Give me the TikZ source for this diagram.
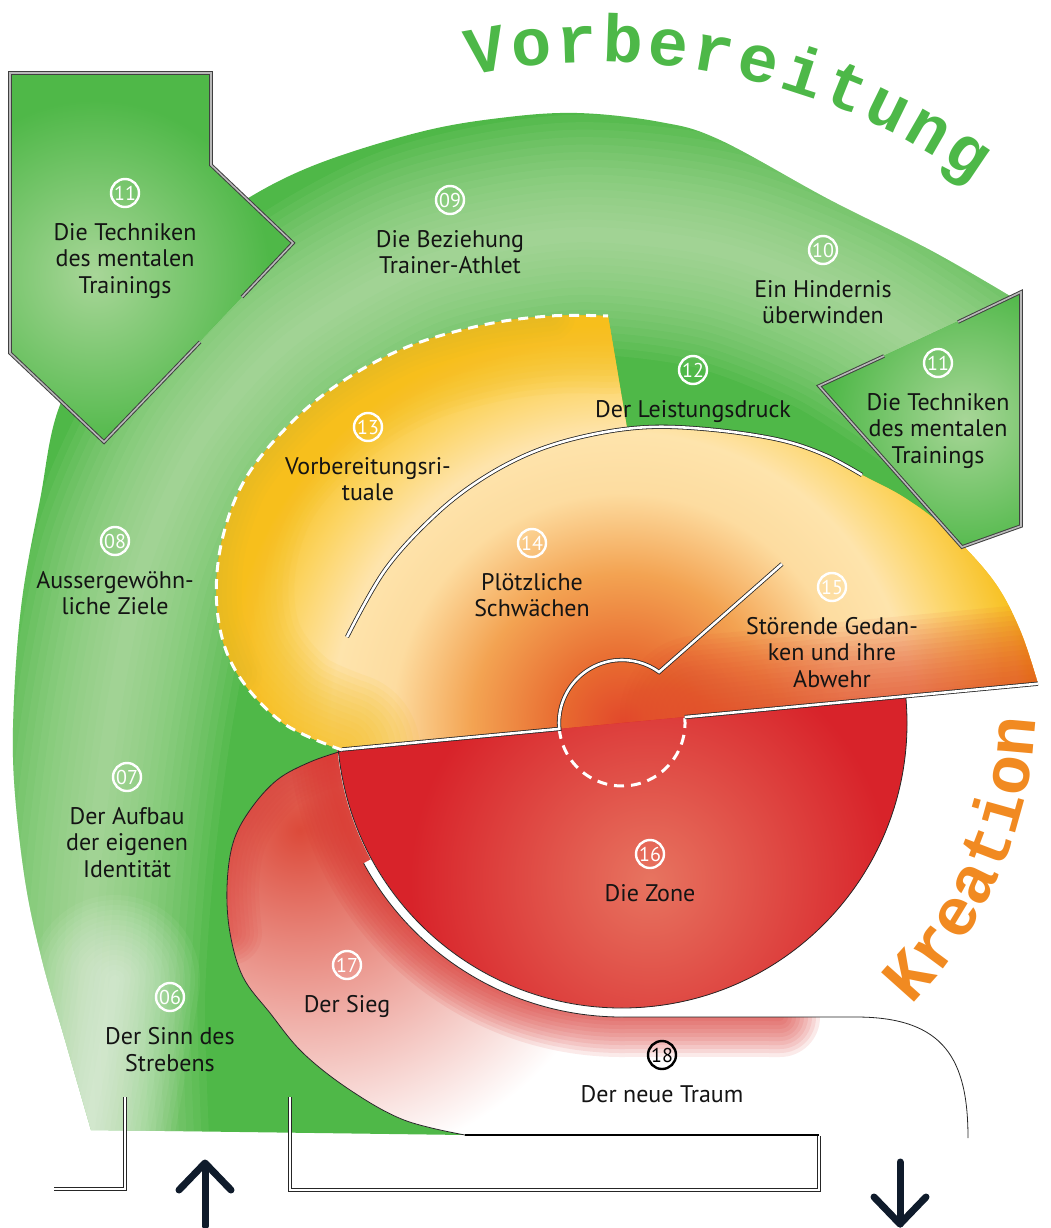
\documentclass[tikz,border=0pt]{standalone}
\usepackage{fontspec}
\setmainfont{PT Sans}
\newfontfamily\titlefont{Liberation Mono}
\usetikzlibrary{positioning,calc}

\definecolor{ringgreen}{HTML}{4FB848}
\definecolor{ringlight}{HTML}{C8E6BA}
\definecolor{boxlight}{HTML}{A8D698}
\definecolor{sunyellow}{HTML}{F7BF1C}
\definecolor{sunmid}{HTML}{FCD462}
\definecolor{suncream}{HTML}{FEE4AC}
\definecolor{sunpale}{HTML}{FDDCA0}
\definecolor{sunorange}{HTML}{F3A352}
\definecolor{sunflame}{HTML}{E86A30}
\definecolor{sunred}{HTML}{E2482B}
\definecolor{sunolive}{HTML}{C9B236}
\definecolor{zonered}{HTML}{D8232A}
\definecolor{zonelight}{HTML}{E77460}
\definecolor{siegred}{HTML}{DA3530}
\definecolor{siegmid}{HTML}{DC4A3A}
\definecolor{arrowink}{HTML}{0F1B2B}
\definecolor{titlegreen}{HTML}{4DB848}
\definecolor{titleorange}{HTML}{F18A21}
\definecolor{labelink}{HTML}{141414}

% 25bp of the shading is the radius of the shaded circle
\pgfdeclareradialshading{sunglow}{\pgfpoint{0bp}{0bp}}{%
  color(0bp)=(sunred); color(3.6bp)=(sunflame); color(8.9bp)=(sunorange);
  color(13.7bp)=(sunpale); color(17.3bp)=(suncream); color(20.8bp)=(sunmid);
  color(24.4bp)=(sunyellow); color(50bp)=(sunyellow)}

% region outlines (pixel units, y pointing down)
\def\ringpath{plot[smooth, tension=0.6] coordinates {(91,1130) (65,1040) (42,960) (25,880) (14,780) (14,700) (22,600) (40,500) (60,405) (110,320) (190,240) (250,197) (320,163) (420,132) (500,118) (577,113) (660,122) (720,140) (830,200) (930,250) (1010,296)} -- (1018,300) -- (1018,520) -- (965,540) -- (700,700) -- (342,752) .. controls (250,800) and (240,1050) .. (465,1135) -- cycle}
\def\sunpath{plot[smooth, tension=0.6] coordinates {(342,750) (283,723) (237,673) (218,617) (220,550) (243,483) (287,427) (340,383) (407,347) (483,325) (550,316) (608,316)} -- (627,428) -- plot[smooth, tension=0.6] coordinates {(627,428) (650,427) (715,430) (780,440) (825,455) (862,475) (905,498) (947,530) (993,580) (1020,630) (1038,684)} -- cycle}
\def\dashcurve{plot[smooth, tension=0.6] coordinates {(342,750) (283,723) (237,673) (218,617) (220,550) (243,483) (287,427) (340,383) (407,347) (483,325) (550,316) (608,316)}}
\def\zonepath{(622,723) ++(-5.4:285) arc[start angle=-5.4, end angle=174.6, radius=285] -- cycle}
\def\siegpath{plot[smooth, tension=0.6] coordinates {(342,751) (310,762) (277,780) (250,810) (233,843) (227,887) (230,933) (243,977) (270,1013) (303,1053) (350,1090) (404,1120) (465,1135)} -- (968,1138) .. controls (968,1060) and (945,1017) .. (856,1017) -- (622,1017) -- (622,1009) arc[start angle=90, end angle=174.6, radius=286] -- cycle}
\def\leftbox{(10,73) -- (211,73) -- (211,165) -- (293,243) -- (104,442) -- (10,353) -- cycle}
\def\rightbox{(819,386) -- (1021,292) -- (1021,526) -- (962,547) -- cycle}

\begin{document}
\begin{tikzpicture}[
    x=1pt, y=-1pt,
    rim line/.style={draw=black!75, line width=1pt, double=gray!55, double distance=1.6pt},
    cut line/.style={draw=black!85, line width=0.8pt, double=white, double distance=2.6pt},
    loop line/.style={draw=black!85, line width=0.7pt, double=white, double distance=2pt},
    edge line/.style={draw=black!85, line width=0.8pt},
    dash rim/.style={draw=white, line width=3pt, dash pattern=on 10pt off 7pt},
    glow/.style={line cap=round, line join=round, opacity=#1},
    num/.style={circle, draw=white, line width=2.4pt, text=white, minimum size=28pt, inner sep=0pt, font=\fontsize{20}{20}\selectfont},
    lbl/.style={align=center, inner sep=0pt, text=labelink, font=\fontsize{24}{26.5}\selectfont},
    title letter/.style={anchor=base, inner sep=0pt, font=\titlefont\bfseries\fontsize{67}{67}\selectfont},
    flow arrow/.style={draw=arrowink, line width=7pt, line cap=round, line join=round}
]
\useasboundingbox (0,0) rectangle (1051,1228);

% Outer green ring
\fill[ringgreen] \ringpath;
\begin{scope}
  \clip \ringpath;
  \foreach \w in {15,30,...,240}
    \draw[ringlight, glow=0.075, line width=\w] plot[smooth] coordinates {(90,1160) (85,1000) (95,850) (115,700) (145,560) (200,440) (290,340) (420,265) (570,235) (720,250) (850,300) (960,370)};
  \foreach \w in {10,20,...,170}
    \draw[white, glow=0.05, line width=\w] plot[smooth] coordinates {(80,1180) (100,1070) (115,980)};
\end{scope}

% Yellow half disk
\fill[sunyellow] \sunpath;
\begin{scope}
  \clip \sunpath;
  \shade[shading=sunglow] (622,723) circle (420);
  \foreach \w in {12,24,...,156}
    \draw[sunyellow, glow=0.09, line width=\w] \dashcurve;
  \foreach \w in {10,20,...,50}
    \draw[sunolive, glow=0.06, line width=\w] plot[smooth] coordinates {(237,673) (218,617) (220,550) (243,483) (287,427) (340,383) (407,347) (483,325) (550,316)};
  \foreach \w in {10,20,...,160}
    \draw[sunred, glow=0.07, line width=\w] (700,715.5) -- (1038,683.7);
\end{scope}

% Arrow boxes
\fill[ringgreen] \leftbox;
\begin{scope}
  \clip \leftbox;
  \shade[inner color=boxlight, outer color=ringgreen] (95,275) circle (175);
\end{scope}
\draw[rim line] (242,297) -- (293,243) -- (211,165) -- (211,73) -- (10,73) -- (10,353) -- (104,442) -- (200,342);
\fill[ringgreen] \rightbox;
\begin{scope}
  \clip \rightbox;
  \shade[inner color=boxlight, outer color=ringgreen] (965,420) circle (140);
\end{scope}
\draw[rim line] (884,356) -- (819,386) -- (962,547) -- (1021,526) -- (1021,292) -- (958,322);

% Victory band and new dream
\fill[white] \siegpath;
\begin{scope}
  \clip \siegpath;
  \shade[inner color=siegmid, outer color=white] (300,830) circle (340);
  \foreach \w in {8,16,...,80}
    \draw[siegred, glow=0.1, line width=\w] (622,723) ++(175:294) arc[start angle=175, end angle=88, radius=294] -- (780,1017);
  \foreach \w in {8,16,...,64}
    \draw[siegred, glow=0.07, line width=\w] plot[smooth, tension=0.6] coordinates {(342,751) (310,762) (277,780) (250,810) (233,843) (227,887) (230,933)};
\end{scope}

% The zone
\fill[zonered] \zonepath;
\begin{scope}
  \clip \zonepath;
  \shade[inner color=zonelight, outer color=zonered] (650,880) circle (240);
\end{scope}

% Edges and cuts
\draw[white, line width=9] (622,723) ++(151.5:289.5) arc[start angle=151.5, end angle=88, radius=289.5];
\draw[edge line] (622,723) ++(-5.4:285) arc[start angle=-5.4, end angle=174.6, radius=285];
\draw[edge line] (622,723) ++(151.5:294) arc[start angle=151.5, end angle=90, radius=294] -- (856,1017) .. controls (945,1017) and (968,1060) .. (968,1138);
\draw[edge line] plot[smooth, tension=0.6] coordinates {(342,751) (310,762) (277,780) (250,810) (233,843) (227,887) (230,933) (243,977) (270,1013) (303,1053) (350,1090) (404,1120) (465,1135)};
\draw[black, line width=2] (465,1135) -- (819,1135);
\draw[dash rim] \dashcurve;
\draw[dash rim] (559.3,728.9) arc[start angle=174.6, end angle=-5.4, radius=63];
\draw[cut line] (342,749.5) -- (559.3,728.9) arc[start angle=174.6, end angle=306, radius=63] -- (782,564);
\draw[cut line] (684.7,717.1) -- (1038,683.7);
\draw[cut line] plot[smooth, tension=0.6] coordinates {(347,637) (385,570) (433,517) (480,480) (533,452) (590,435) (650,427) (715,430) (780,440) (825,455) (862,475)};

% Bottom loop and flow arrows
\draw[loop line] (290,1097) -- (290,1190) -- (819,1190) -- (819,1136);
\draw[loop line] (125,1097) -- (125,1189) -- (54,1189);
\draw[flow arrow] (205,1226) -- (205,1164);
\draw[flow arrow] (179,1190) -- (205,1163) -- (231,1190);
\draw[flow arrow] (900,1162) -- (900,1224);
\draw[flow arrow] (874,1197) -- (900,1224) -- (926,1197);

% Numbered labels
\node[num] (n11a) at (125,193) {11};
\node[lbl, below=15pt of n11a] (t11a) {Die Techniken\\des mentalen\\Trainings};
\node[num] (n09) at (450,200) {09};
\node[lbl, below=15pt of n09] (t09) {Die Beziehung\\Trainer-Athlet};
\node[num] (n10) at (823,250) {10};
\node[lbl, below=15pt of n10] (t10) {Ein Hindernis\\überwinden};
\node[num] (n11b) at (938,363) {11};
\node[lbl, below=15pt of n11b] (t11b) {Die Techniken\\des mentalen\\Trainings};
\node[num] (n12) at (693,370) {12};
\node[lbl, below=15pt of n12] (t12) {Der Leistungsdruck};
\node[num] (n13) at (368,427) {13};
\node[lbl, below=15pt of n13] (t13) {Vorbereitungsri-\\tuale};
\node[num] (n14) at (532,543) {14};
\node[lbl, below=15pt of n14] (t14) {Plötzliche\\Schwächen};
\node[num] (n15) at (832,587) {15};
\node[lbl, below=15pt of n15] (t15) {Störende Gedan-\\ken und ihre\\Abwehr};
\node[num] (n08) at (115,541) {08};
\node[lbl, below=15pt of n08] (t08) {Aussergewöhn-\\liche Ziele};
\node[num] (n07) at (127,777) {07};
\node[lbl, below=15pt of n07] (t07) {Der Aufbau\\der eigenen\\Identität};
\node[num] (n16) at (650,854) {16};
\node[lbl, below=15pt of n16] (t16) {Die Zone};
\node[num] (n17) at (347,965) {17};
\node[lbl, below=15pt of n17] (t17) {Der Sieg};
\node[num] (n06) at (170,997) {06};
\node[lbl, below=15pt of n06] (t06) {Der Sinn des\\Strebens};
\node[num, draw=black, text=black] (n18) at (662,1055) {18};
\node[lbl, below=15pt of n18] (t18) {Der neue Traum};

% Section titles along the arcs
\foreach \ch [count=\i from 0] in {V,o,r,b,e,r,e,i,t,u,n,g} {
  \pgfmathsetmacro{\ang}{-100+4*\i}
  \node[title letter, text=titlegreen, rotate=-90-\ang] (prep\i) at ($(600,700)+(\ang:638)$) {\ch};
}
\foreach \ch [count=\i from 0] in {K,r,e,a,t,i,o,n} {
  \pgfmathsetmacro{\ang}{41.8-5.24*\i}
  \node[title letter, text=titleorange, rotate=90-\ang] (crea\i) at ($(600,700)+(\ang:436)$) {\ch};
}
\end{tikzpicture}
\end{document}
